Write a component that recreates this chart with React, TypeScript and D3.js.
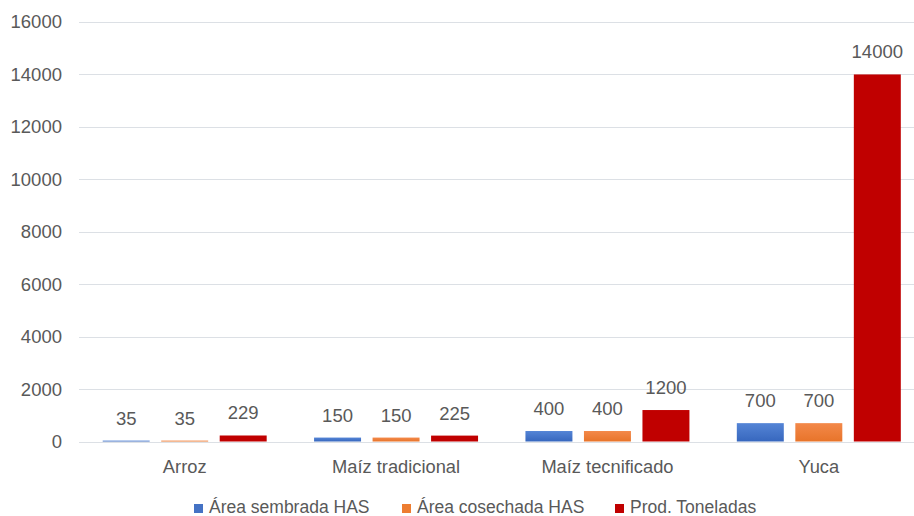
import React from "react";
import * as d3 from "d3";

const categories = ["Arroz", "Maíz tradicional", "Maíz tecnificado", "Yuca"];
const seriesNames = ["Área sembrada HAS", "Área cosechada HAS", "Prod. Toneladas"];
const areaSembrada = [35, 150, 400, 700];
const areaCosechada = [35, 150, 400, 700];
const produccion = [229, 225, 1200, 14000];
const yTicks = [0, 2000, 4000, 6000, 8000, 10000, 12000, 14000, 16000];
const colors = ["#4472C4", "#ED7D31", "#C00000"];

const W = 914;
const H = 516;
const FONT = "'Liberation Sans', Arial, sans-serif";
const TXT = "#595959";

export default function App() {
  const seriesValues = [areaSembrada, areaCosechada, produccion];
  const x0 = d3.scaleBand<string>().domain(categories).range([79, 924.5]).paddingInner(0).paddingOuter(0);
  const x1 = d3
    .scaleBand<string>()
    .domain(seriesNames)
    .range([0, x0.bandwidth()])
    .paddingInner(0.197)
    .paddingOuter(0.405);
  const y = d3.scaleLinear().domain([0, 16000]).range([441.5, 22]);

  const legendX = [194, 402, 615];

  const grid = (t: number) => (
    <line
      key={"g" + t}
      x1={79}
      x2={914}
      y1={Math.round(y(t)) + 0.5}
      y2={Math.round(y(t)) + 0.5}
      stroke="#DCE0E5"
      strokeWidth={1.2}
    />
  );

  return (
    <div style={{ position: "fixed", left: 0, top: 0 }}>
      <svg width={W} height={H} style={{ display: "block", background: "#fff" }}>
        <defs>
          <linearGradient id="g0" x1="0" y1="0" x2="0" y2="1">
            <stop offset="0" stopColor="#5585D6" />
            <stop offset="1" stopColor="#3767BE" />
          </linearGradient>
          <linearGradient id="g1" x1="0" y1="0" x2="0" y2="1">
            <stop offset="0" stopColor="#F3894A" />
            <stop offset="1" stopColor="#E8742A" />
          </linearGradient>
          <linearGradient id="g2" x1="0" y1="0" x2="0" y2="1">
            <stop offset="0" stopColor="#C00000" />
            <stop offset="1" stopColor="#C00000" />
          </linearGradient>
        </defs>
        {yTicks.filter((t) => t !== 0).map(grid)}
        {yTicks.map((t) => (
          <text
            key={"t" + t}
            x={62}
            y={y(t)}
            dy="0.35em"
            textAnchor="end"
            fontFamily={FONT}
            fontSize={18.5}
            fill={TXT}
          >
            {t}
          </text>
        ))}
        {categories.map((c, ci) => (
          <g key={c} transform={`translate(${x0(c)},0)`}>
            {seriesNames.map((s, si) => {
              const v = seriesValues[si][ci];
              const top = y(v);
              const bx = x1(s)!;
              return (
                <g key={s}>
                  <rect x={bx} y={top} width={x1.bandwidth()} height={y(0) - top} fill={`url(#g${si})`} />
                  <text
                    x={bx + x1.bandwidth() / 2}
                    y={top - 16}
                    textAnchor="middle"
                    fontFamily={FONT}
                    fontSize={18.5}
                    fill={TXT}
                  >
                    {v}
                  </text>
                </g>
              );
            })}
            <text x={x0.bandwidth() / 2} y={473} textAnchor="middle" fontFamily={FONT} fontSize={18.3} fill={TXT}>
              {c}
            </text>
          </g>
        ))}
        {grid(0)}
        {seriesNames.map((s, i) => (
          <g key={s}>
            <rect x={legendX[i]} y={504} width={9} height={9} fill={colors[i]} />
            <text x={legendX[i] + 15} y={513} fontFamily={FONT} fontSize={17.5} fill={TXT}>
              {s}
            </text>
          </g>
        ))}
      </svg>
    </div>
  );
}
